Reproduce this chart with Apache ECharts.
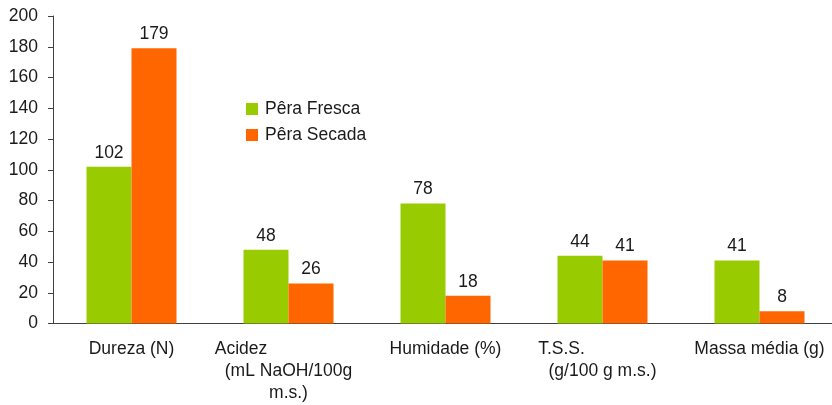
<!DOCTYPE html>
<html>
<head>
<meta charset="utf-8">
<script src="https://cdn.jsdelivr.net/npm/echarts@6/dist/echarts.min.js"></script>
<style>
  html, body { margin: 0; padding: 0; background: #fff; }
  #chart { width: 832px; height: 405px; }
</style>
</head>
<body>
<div id="chart"></div>
<script>
  // categorias e valores
  var categories = ['Dureza (N)', 'Acidez\n(mL NaOH/100g\nm.s.)', 'Humidade (%)', 'T.S.S.\n(g/100 g m.s.)', 'Massa média (g)'];
  var fresca = [102, 48, 78, 44, 41];
  var secada = [179, 26, 18, 41, 8];
  var seriesNames = ['Pêra Fresca', 'Pêra Secada'];
  var yTicks = [0, 200, 20]; // min, max, intervalo

  var font = 'Liberation Sans, Arial, sans-serif';
  var txt = '#1a1a1a';
  var fs = 17.5;

  var chart = echarts.init(document.getElementById('chart'));

  var labelOption = {
    show: true,
    position: 'top',
    distance: 5,
    color: txt,
    fontSize: fs,
    fontFamily: font
  };

  var option = {
    animation: false,
    backgroundColor: '#fff',
    color: ['#99CC00', '#FF6600'],
    // a área do gráfico passa um pouco da borda direita (como no original)
    grid: { left: 53, width: 785, top: 16, bottom: 81.5, outerBoundsMode: 'none', containLabel: false },
    legend: {
      orient: 'vertical',
      left: 246,
      top: 100,
      padding: 0,
      itemWidth: 12,
      itemHeight: 12,
      itemGap: 8,
      icon: 'rect',
      data: seriesNames,
      textStyle: { color: txt, fontSize: fs, fontFamily: font, lineHeight: 17, padding: [0, 0, 0, 2] }
    },
    xAxis: {
      type: 'category',
      data: categories,
      axisLine: { lineStyle: { color: '#404040', width: 1 } },
      axisTick: { length: 5, lineStyle: { color: '#404040' } },
      axisLabel: {
        interval: 0,
        margin: 15,
        color: txt,
        fontSize: fs,
        fontFamily: font,
        lineHeight: 22,
        formatter: function (value, idx) {
          var lines = value.split('\n');
          if (lines.length === 1) return value;
          // primeira linha desviada para a esquerda, como no original
          lines[0] = '{' + (idx === 1 ? 'a' : 'b') + '|' + lines[0] + '}';
          return lines.join('\n');
        },
        rich: {
          a: { padding: [0, 95, 0, 0], fontSize: fs, fontFamily: font, color: txt, lineHeight: 22 },
          b: { padding: [0, 82, 0, 0], fontSize: fs, fontFamily: font, color: txt, lineHeight: 22 }
        }
      }
    },
    yAxis: {
      type: 'value',
      min: yTicks[0],
      max: yTicks[1],
      interval: yTicks[2],
      axisLine: { show: true, lineStyle: { color: '#404040', width: 1 } },
      axisTick: { show: true, length: 5, lineStyle: { color: '#404040' } },
      splitLine: { show: false },
      axisLabel: { margin: 15, color: txt, fontSize: fs, fontFamily: font }
    },
    series: [
      { name: seriesNames[0], type: 'bar', data: fresca, barWidth: 45, barGap: 0, label: labelOption },
      { name: seriesNames[1], type: 'bar', data: secada, barWidth: 45, barGap: 0, label: labelOption }
    ]
  };

  chart.setOption(option);
</script>
</body>
</html>
